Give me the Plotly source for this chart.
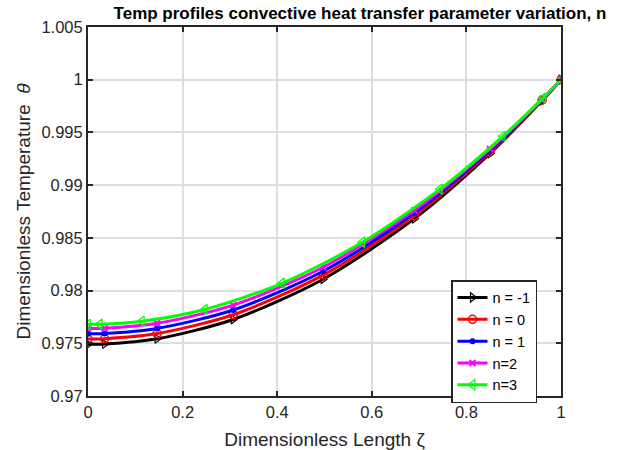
import plotly.graph_objects as go

# x mesh points for n=-1, 0, 1, 2
x_a = [0, 0.035, 0.146, 0.307, 0.497, 0.69, 0.85, 0.96, 1.0]
# x mesh points for n=3
x_g = [0, 0.025, 0.114, 0.247, 0.41, 0.58, 0.744, 0.877, 0.962, 1.0]

y_nm1 = [0.9749, 0.97493, 0.97543, 0.97726, 0.98108, 0.98682, 0.99301, 0.99802, 1.0]
y_n0 = [0.9754, 0.97543, 0.97592, 0.97771, 0.98146, 0.98709, 0.99315, 0.99806, 1.0]
y_n1 = [0.9759, 0.97593, 0.97641, 0.97816, 0.98183, 0.98735, 0.99329, 0.99810, 1.0]
y_n2 = [0.9764, 0.97643, 0.97690, 0.97862, 0.98221, 0.98761, 0.99343, 0.99814, 1.0]
y_n3 = [0.9768, 0.97681, 0.97710, 0.97821, 0.98069, 0.98458, 0.98962, 0.99463, 0.99826, 1.0]

names = ["n = -1", "n = 0", "n = 1", "n=2", "n=3"]
colors = ["#000000", "#ff0000", "#0000ff", "#ff00ff", "#00ff00"]

x_ticks = [0, 0.2, 0.4, 0.6, 0.8, 1]
x_ticktext = ["0", "0.2", "0.4", "0.6", "0.8", "1"]
y_ticks = [0.97, 0.975, 0.98, 0.985, 0.99, 0.995, 1.0, 1.005]
y_ticktext = ["0.97", "0.975", "0.98", "0.985", "0.99", "0.995", "1", "1.005"]

series = [
    (x_a, y_nm1, dict(symbol="triangle-right-open", size=8, line=dict(width=1.2))),
    (x_a, y_n0, dict(symbol="circle-open", size=8, line=dict(width=1.5))),
    (x_a, y_n1, dict(symbol="circle", size=6)),
    (x_a, y_n2, dict(symbol="x-thin-open", size=6, line=dict(width=2))),
    (x_g, y_n3, dict(symbol="triangle-left-open", size=9, line=dict(width=1.2))),
]

FONT = "Liberation Sans, Arial, sans-serif"

fig = go.Figure()
for (xs, ys, mk), name, c in zip(series, names, colors):
    mk = dict(mk)
    mk["color"] = c
    if "line" in mk:
        mk["line"] = dict(mk["line"], color=c)
    fig.add_trace(go.Scatter(
        x=xs, y=ys, mode="lines+markers", name=name,
        line=dict(color=c, width=3, shape="spline", smoothing=0.8),
        marker=mk,
    ))

axis_common = dict(
    showline=True, linecolor="#262626", linewidth=2, mirror="ticks",
    ticks="inside", ticklen=5, tickwidth=2, tickcolor="#262626",
    showgrid=True, gridcolor="#dedede", gridwidth=2, zeroline=False,
    tickfont=dict(family=FONT, size=16.5, color="#262626"),
)

fig.update_layout(
    width=618, height=450,
    margin=dict(l=88, r=57, t=27, b=54),
    paper_bgcolor="white", plot_bgcolor="white",
    font=dict(family=FONT, color="#262626"),
    title=dict(
        text="<b>Temp profiles convective heat transfer parameter variation, n</b>",
        x=360 / 618, xanchor="center", y=1 - 13 / 450, yanchor="middle",
        font=dict(size=17, color="#000000"),
    ),
    xaxis=dict(axis_common, range=[0, 1], tickvals=x_ticks, ticktext=x_ticktext,
               automargin=False,
               title=dict(text="Dimensionless Length ζ", font=dict(size=19))),
    yaxis=dict(axis_common, range=[0.97, 1.005], tickvals=y_ticks, ticktext=y_ticktext,
               automargin=True,
               title=dict(text="Dimensionless Temperature  <i>θ</i>", font=dict(size=19), standoff=6)),
    legend=dict(
        x=(451 - 88) / 473, y=(396 - 280) / 369, xanchor="left", yanchor="top",
        bgcolor="white", bordercolor="#262626", borderwidth=1.5,
        font=dict(size=14.5, color="#000000"), tracegroupgap=0,
        itemwidth=30,
    ),
    showlegend=True,
)

fig.write_html("out.html")
